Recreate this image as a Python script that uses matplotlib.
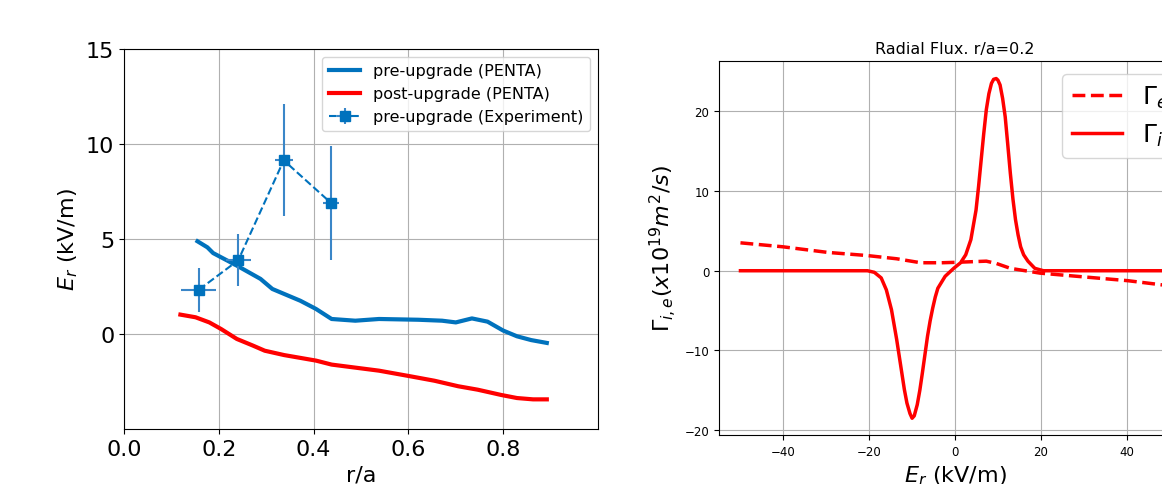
import matplotlib.pyplot as plt


# DATA - LEFT PANEL (Er profiles)

ra_pre = [0.155, 0.176, 0.188, 0.238, 0.288, 0.313, 0.372, 0.405, 0.438, 0.488,
          0.538, 0.621, 0.671, 0.700, 0.734, 0.767, 0.800, 0.829, 0.859, 0.892]
er_pre = [4.88, 4.56, 4.26, 3.60, 2.90, 2.37, 1.75, 1.32, 0.79, 0.70,
          0.79, 0.75, 0.70, 0.61, 0.82, 0.65, 0.18, -0.12, -0.32, -0.47]

ra_post = [0.119, 0.151, 0.180, 0.205, 0.238, 0.272, 0.297, 0.338, 0.405, 0.438,
           0.538, 0.605, 0.655, 0.705, 0.746, 0.796, 0.829, 0.863, 0.892]
er_post = [1.02, 0.88, 0.61, 0.26, -0.26, -0.61, -0.88, -1.11, -1.40, -1.61,
           -1.93, -2.23, -2.46, -2.75, -2.93, -3.21, -3.37, -3.44, -3.44]

ra_exp = [0.158, 0.241, 0.337, 0.437]
er_exp = [2.33, 3.88, 9.14, 6.89]
ra_exp_err = [0.037, 0.026, 0.019, 0.017]
er_exp_err = [1.17, 1.37, 2.94, 3.00]


# DATA - RIGHT PANEL (radial flux at r/a=0.2)

er_i = [-50, -20.4, -18.8, -17.2, -16.0, -14.8, -13.6, -13.0, -12.4, -11.8,
        -11.2, -10.5, -10.0, -9.5, -8.8, -8.2, -7.6, -7.0, -6.4, -5.8,
        -5.2, -4.6, -4.0, -2.3, -0.3, 1.3, 2.5, 3.7, 4.9, 5.5,
        6.1, 6.7, 7.3, 7.9, 8.5, 9.0, 9.6, 10.0, 10.5, 11.1,
        11.7, 12.3, 12.9, 13.5, 14.1, 14.7, 15.3, 16.0, 17.0, 18.6,
        20.6, 50]
flux_i = [0.0, 0.0, -0.2, -0.9, -2.4, -4.9, -8.6, -10.7, -12.8, -14.9,
          -16.6, -17.9, -18.5, -18.2, -16.8, -15.0, -12.8, -10.5, -8.2, -6.3,
          -4.7, -3.3, -2.2, -0.7, 0.3, 1.0, 2.0, 3.9, 7.6, 10.6,
          13.9, 17.2, 20.2, 22.2, 23.5, 24.0, 24.1, 23.9, 23.3, 21.6,
          19.3, 15.8, 12.2, 9.0, 6.4, 4.5, 3.0, 2.0, 1.2, 0.3,
          0.0, 0.0]

er_e = [-50, -40.1, -29.7, -20.4, -13.6, -8.0, -3.1, 0.0, 7.3, 9.7,
        12.9, 19.8, 40.3, 47.9, 50]
flux_e = [3.5, 3.0, 2.3, 1.9, 1.5, 1.0, 1.0, 1.05, 1.2, 0.9,
          0.3, -0.3, -1.25, -1.75, -1.9]


# FIGURE

BLUE = "#0072BD"

fig = plt.figure(figsize=(11.62, 4.85), dpi=100)
W, H = 1162, 485

ax1 = fig.add_axes([124 / W, (H - 430) / H, 474 / W, 380 / H])
ax2 = fig.add_axes([719 / W, (H - 436) / H, 472 / W, 374 / H])


# LEFT PANEL

ax1.plot(ra_pre, er_pre, color=BLUE, linewidth=3, label="pre-upgrade (PENTA)")
ax1.plot(ra_post, er_post, color="red", linewidth=3, label="post-upgrade (PENTA)")
ax1.errorbar(ra_exp, er_exp, xerr=ra_exp_err, yerr=er_exp_err,
             fmt="s--", color=BLUE, markersize=7, linewidth=1.5,
             elinewidth=1.5, ecolor="#3a86c8", label="pre-upgrade (Experiment)")

ax1.set_xlim(0, 1.0)
ax1.set_ylim(-5, 15)
ax1.set_xticks([0.0, 0.2, 0.4, 0.6, 0.8])
ax1.set_yticks([0, 5, 10, 15])
ax1.tick_params(labelsize=16)
ax1.set_xlabel("r/a", fontsize=16)
ax1.set_ylabel("$E_r$ (kV/m)", fontsize=16)
ax1.grid(True)
ax1.legend(loc="upper right", fontsize=11.5)


# RIGHT PANEL

ax2.plot(er_e, flux_e, color="red", linestyle="--", linewidth=2.5, label=r"$\Gamma_e$")
ax2.plot(er_i, flux_i, color="red", linewidth=2.5, label=r"$\Gamma_i$")

ax2.set_xlim(-55, 55)
ax2.set_ylim(-20.6, 26.3)
ax2.set_xticks([-40, -20, 0, 20, 40])
ax2.set_yticks([-20, -10, 0, 10, 20])
ax2.tick_params(labelsize=8.5)
ax2.set_title("Radial Flux. r/a=0.2", fontsize=11.5)
ax2.set_xlabel("$E_r$ (kV/m)", fontsize=16)
ax2.set_ylabel(r"$\Gamma_{i,e} (x10^{19} m^2/s)$", fontsize=16)
ax2.grid(True)
ax2.legend(loc="upper right", fontsize=18)

fig.savefig("out.png", dpi=100)
plt.close(fig)
